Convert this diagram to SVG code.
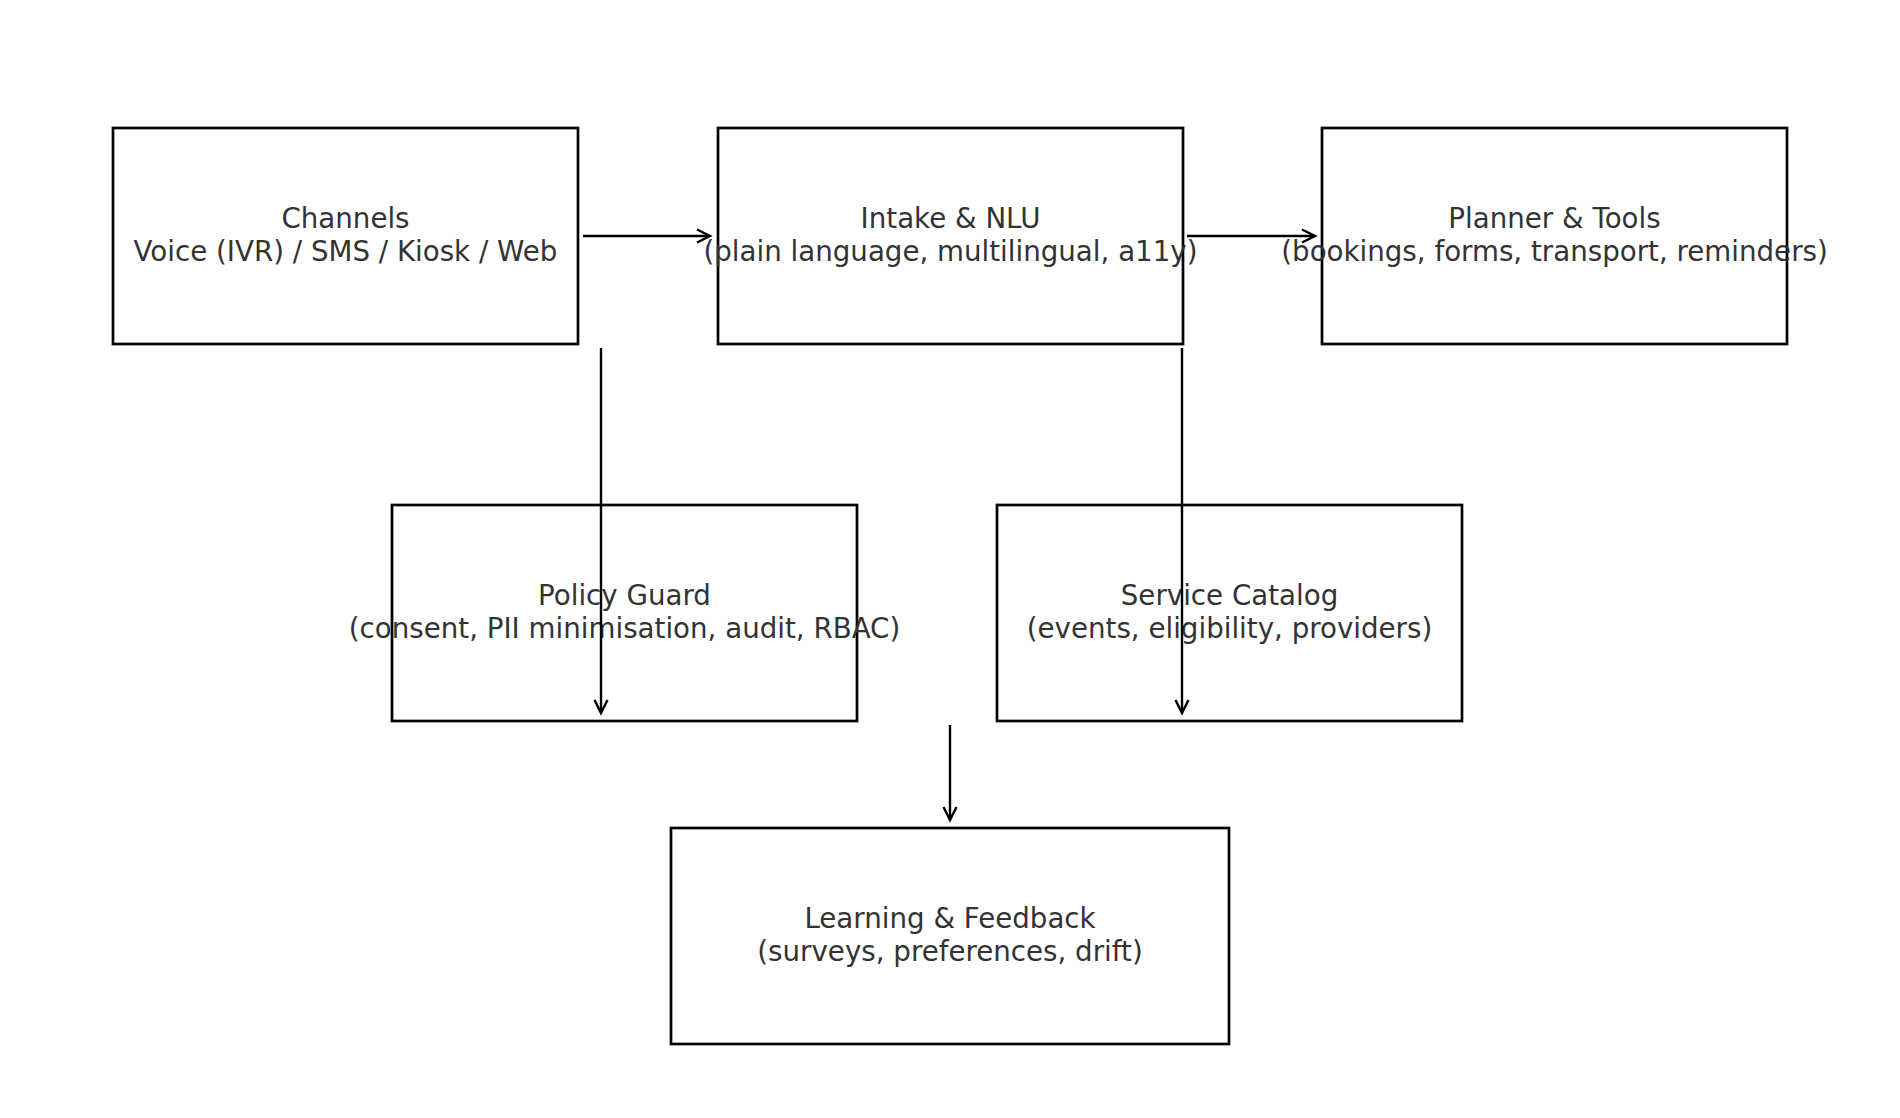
<svg xmlns="http://www.w3.org/2000/svg" width="1900" height="1118" viewBox="0 0 1900 1118">
  <style>
    .box { fill: #ffffff; stroke: #000000; stroke-width: 2.7; }
    .lbl { font-family: "DejaVu Sans", "Liberation Sans", sans-serif; font-size: 27.7px; fill: #333333; text-anchor: middle; }
    .conn { fill: none; stroke: #000000; stroke-width: 2.4; marker-end: url(#arr); }
  </style>
  <defs>
    <marker id="arr" markerUnits="userSpaceOnUse" markerWidth="20" markerHeight="20" viewBox="-16 -10 20 20" refX="0" refY="0" orient="auto" overflow="visible">
      <path d="M-13,-6.5 L0,0 L-13,6.5" fill="none" stroke="#000000" stroke-width="2.4" stroke-linejoin="miter"/>
    </marker>
  </defs>
  <rect x="0" y="0" width="1900" height="1118" fill="#ffffff"/>

  <g id="channels">
    <rect class="box" x="113" y="128" width="465" height="216"/>
    <text class="lbl" x="345.5" y="228">Channels</text>
    <text class="lbl" x="345.5" y="261">Voice (IVR) / SMS / Kiosk / Web</text>
  </g>
  <g id="intake">
    <rect class="box" x="718" y="128" width="465" height="216"/>
    <text class="lbl" x="950.5" y="228">Intake &amp; NLU</text>
    <text class="lbl" x="950.5" y="261">(plain language, multilingual, a11y)</text>
  </g>
  <g id="planner">
    <rect class="box" x="1322" y="128" width="465" height="216"/>
    <text class="lbl" x="1554.5" y="228">Planner &amp; Tools</text>
    <text class="lbl" x="1554.5" y="261">(bookings, forms, transport, reminders)</text>
  </g>
  <g id="policy">
    <rect class="box" x="392" y="505" width="465" height="216"/>
    <text class="lbl" x="624.5" y="605">Policy Guard</text>
    <text class="lbl" x="624.5" y="638">(consent, PII minimisation, audit, RBAC)</text>
  </g>
  <g id="catalog">
    <rect class="box" x="997" y="505" width="465" height="216"/>
    <text class="lbl" x="1229.5" y="605">Service Catalog</text>
    <text class="lbl" x="1229.5" y="638">(events, eligibility, providers)</text>
  </g>
  <g id="learning">
    <rect class="box" x="671" y="828" width="558" height="216"/>
    <text class="lbl" x="950" y="928">Learning &amp; Feedback</text>
    <text class="lbl" x="950" y="961">(surveys, preferences, drift)</text>
  </g>

  <g id="connectors">
    <path class="conn" d="M583,236 L710,236"/>
    <path class="conn" d="M1187,236 L1315,236"/>
    <path class="conn" d="M601,348 L601,713"/>
    <path class="conn" d="M1182,348 L1182,713"/>
    <path class="conn" d="M950,725 L950,820"/>
  </g>
</svg>
